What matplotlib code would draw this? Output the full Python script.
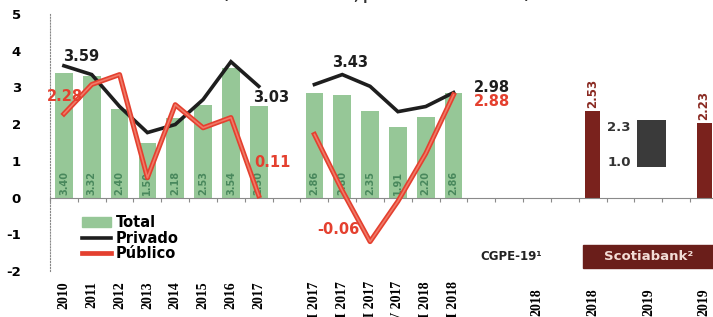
import matplotlib
matplotlib.use('Agg')
import matplotlib.pyplot as plt
import matplotlib.patheffects as pe
from matplotlib.lines import Line2D
from matplotlib.patches import Patch, Rectangle
from matplotlib.transforms import blended_transform_factory
import numpy as np

# ---------------- data ----------------
hist_years = ['2010', '2011', '2012', '2013', '2014', '2015', '2016', '2017']
quarters = ['I 2017', 'II 2017', 'III 2017', 'IV 2017', 'I 2018', 'II 2018']
forecast_labels = ['2018', '2018', '2019', '2019']

total_hist = [3.40, 3.32, 2.40, 1.50, 2.18, 2.53, 3.54, 2.50]
privado_hist = [3.59, 3.35, 2.48, 1.77, 1.99, 2.67, 3.70, 3.03]
publico_hist = [2.28, 3.08, 3.35, 0.54, 2.53, 1.90, 2.18, 0.05]

total_q = [2.86, 2.80, 2.35, 1.91, 2.20, 2.86]
privado_q = [3.08, 3.35, 3.03, 2.34, 2.48, 2.86]
publico_q = [1.72, 0.19, -1.20, -0.10, 1.20, 2.80]

scotia_values = [2.35, 2.04]
scotia_labels = ['2.53', '2.23']
cgpe_range = [0.84, 2.10]
cgpe_range_labels = ['1.0', '2.3']

# ---------------- layout ----------------
W, H = 713, 317
fig = plt.figure(figsize=(W / 100, H / 100), dpi=100)
ax = fig.add_axes([50 / W, (H - 271) / H, 668 / W, (271 - 14) / H])

x_hist = np.arange(len(hist_years))
x_q = np.arange(len(hist_years) + 1, len(hist_years) + 1 + len(quarters))
x_fc = np.arange(x_q[-1] + 3, x_q[-1] + 3 + 2 * len(forecast_labels), 2)

GREEN = '#96c797'
BAR_TXT = '#3b7d52'
BLACK = '#1e1e1e'
RED = '#e4402f'
MAROON = '#7a221d'

# bars Total
for xs, vals in ((x_hist, total_hist), (x_q, total_q)):
    ax.bar(xs, vals, width=0.64, color=GREEN, zorder=2)
    for xv, v in zip(xs, vals):
        ax.text(xv, 0.08, f'{v:.2f}', rotation=90, ha='center', va='bottom',
                fontsize=7, fontweight='bold', color=BAR_TXT, alpha=0.85, zorder=3)

# lines
x_line = np.concatenate([x_hist, [x_hist[-1] + 1], x_q])
priv_line = np.concatenate([privado_hist, [np.nan], privado_q])
pub_line = np.concatenate([publico_hist, [np.nan], publico_q])
ax.plot(x_line, priv_line, color=BLACK, lw=2.6, zorder=4, solid_joinstyle='miter')
ax.plot(x_line, pub_line, color='#f07a68', lw=1.2, zorder=5,
        path_effects=[pe.Stroke(linewidth=3.6, foreground=RED), pe.Normal()])

# forecast bars (Scotiabank) and CGPE range
sx = [x_fc[1], x_fc[3]]
ax.bar(sx, scotia_values, width=0.54, color=MAROON, zorder=2)
for xv, v, lab in zip(sx, scotia_values, scotia_labels):
    ax.annotate(lab, (xv, v), xytext=(0, 3), textcoords='offset pixels',
                rotation=90, ha='center', va='bottom', fontsize=8.5,
                color='#8a2a22', fontweight='bold')
ax.annotate(cgpe_range_labels[1], (x_fc[2], cgpe_range[1]), xytext=(-41, -7),
            textcoords='offset pixels', ha='left', va='center', fontsize=9.5,
            fontweight='bold', color='#333333', zorder=3)
ax.annotate(cgpe_range_labels[0], (x_fc[2], cgpe_range[0]), xytext=(-41, 4),
            textcoords='offset pixels', ha='left', va='center', fontsize=9.5,
            fontweight='bold', color='#333333', zorder=3)
ax.bar([x_fc[2] + 0.1], [cgpe_range[1] - cgpe_range[0]], bottom=[cgpe_range[0]],
       width=1.04, color='#3a3a3a', zorder=4)

# data labels
def lab(text, x, y, dx, dy, color):
    ax.annotate(text, (x, y), xytext=(dx, -dy), textcoords='offset pixels',
                ha='center', va='center', fontsize=10.5, fontweight='bold',
                color=color, zorder=6)

lab('3.59', x_hist[0], privado_hist[0], 17, -9, BLACK)
lab('2.28', x_hist[0], publico_hist[0], 1, -17, RED)
lab('3.03', x_hist[-1], privado_hist[-1], 12, 11, BLACK)
lab('0.11', x_hist[-1], publico_hist[-1], 14, -33, RED)
lab('3.43', x_q[1], privado_q[1], 8, -12, BLACK)
lab('2.98', x_q[-1], privado_q[-1], 38, -5, BLACK)
lab('2.88', x_q[-1], publico_q[-1], 38, 7, RED)
lab('-0.06', x_q[2], publico_q[2], -32, -12, RED)

# axes styling
ax.set_xlim(-0.5, 23.5)
ax.set_ylim(-2, 5)
for s in ('top', 'right'):
    ax.spines[s].set_visible(False)
ax.spines['left'].set_linestyle(':')
ax.spines['left'].set_color('#888888')
ax.spines['bottom'].set_position(('data', 0))
ax.spines['bottom'].set_color('#8a8a8a')
ax.set_xticks(np.arange(-0.5, 24, 1))
ax.tick_params(axis='x', length=3, color='#8a8a8a', labelbottom=False)
ax.set_yticks(range(-2, 6))
ax.set_yticklabels([str(v) for v in range(-2, 6)], fontsize=9.5, fontweight='bold')
ax.tick_params(axis='y', length=0, pad=21)

# category labels
trans = blended_transform_factory(ax.transData, ax.transAxes)
for xs, labs, off in ((x_hist, hist_years, 10), (x_q, quarters, 10), (x_fc, forecast_labels, 17)):
    for xv, t in zip(xs, labs):
        ax.annotate(t, (xv, 0), xycoords=trans, xytext=(0, -off), textcoords='offset pixels',
                    rotation=90, ha='center', va='top', fontsize=10,
                    family='Liberation Serif', fontweight='bold', annotation_clip=False)

# legend
handles = [Patch(color=GREEN), Line2D([], [], color=BLACK, lw=2.6),
           Line2D([], [], color=RED, lw=3.4)]
ax.legend(handles, ['Total', 'Privado', 'Público'], loc='upper left',
          bbox_to_anchor=(82 / W, 1 - 215 / H), bbox_transform=fig.transFigure,
          frameon=False, prop={'weight': 'bold', 'size': 10.5},
          handlelength=2.0, handletextpad=0.3, labelspacing=0.05,
          borderpad=0, borderaxespad=0)

# group captions
fig.text(511 / W, 1 - 256 / H, 'CGPE-19¹', ha='center', va='center',
         fontsize=8.5, fontweight='bold', color='#222222')
fig.patches.append(Rectangle((583 / W, 1 - 268 / H), 140 / W, 23 / H,
                             transform=fig.transFigure, color='#6a1e1a', zorder=1))
fig.text(649 / W, 1 - 256 / H, 'Scotiabank²', ha='center', va='center',
         fontsize=9.5, fontweight='bold', color='#f3ddd6')

# clipped title remnant (only its lowest pixels fall inside the picture)
fig.text(376 / W, 1.0, '(Variación % anual, pronósticos 2018-2019)',
         ha='center', va='baseline', fontsize=9, fontweight='bold', color='#333333')

fig.savefig('out.png', dpi=100)
